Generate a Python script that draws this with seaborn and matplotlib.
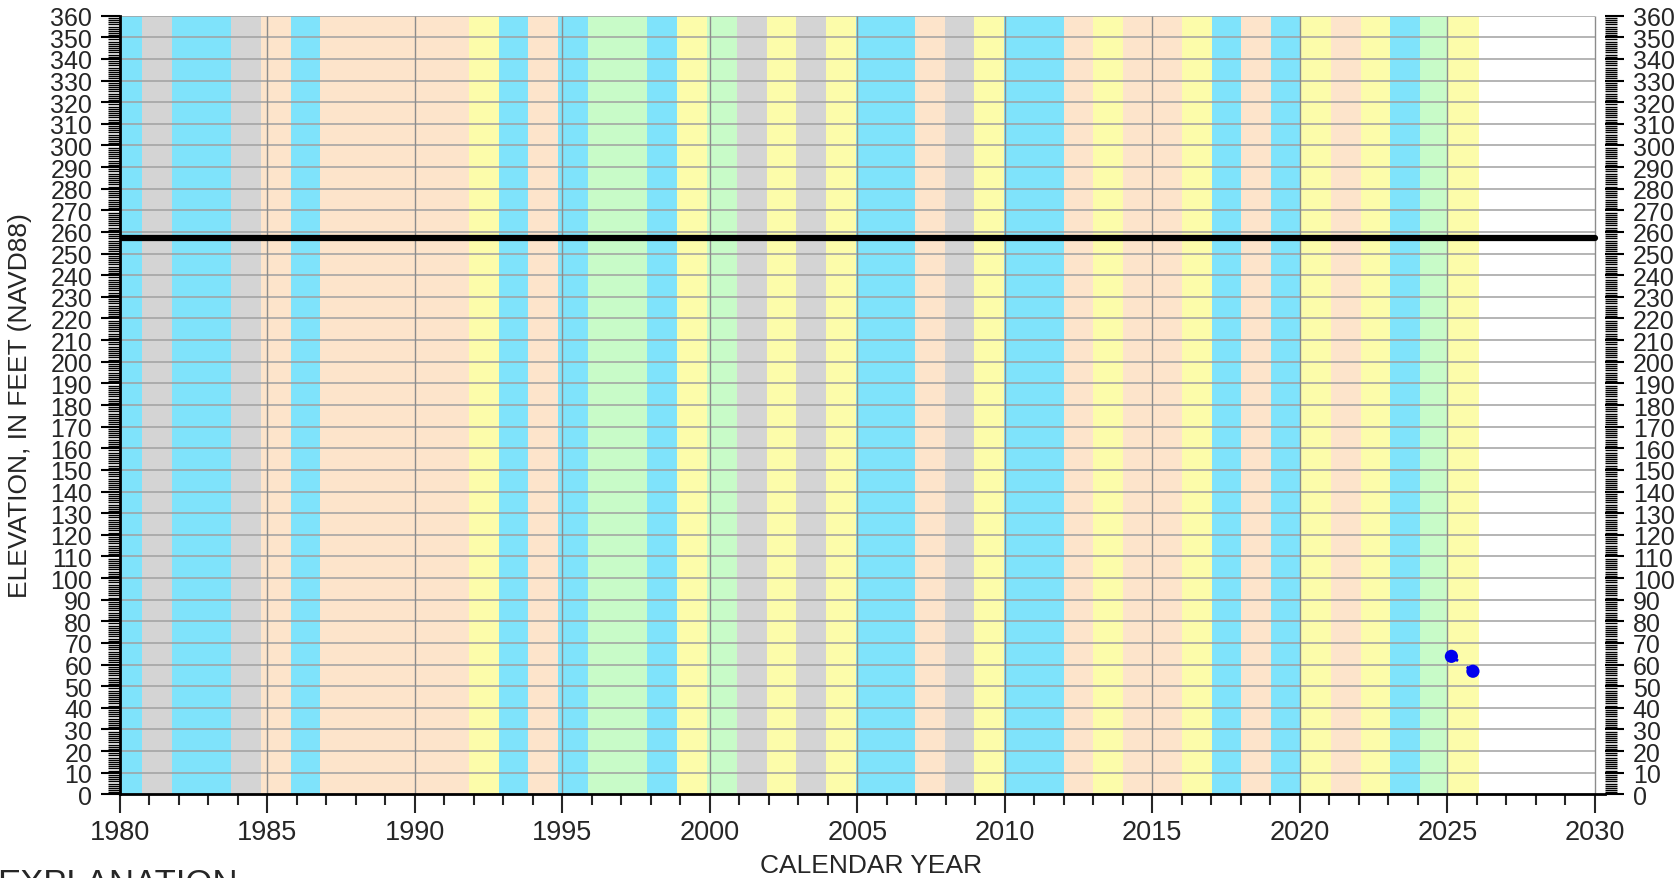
import numpy as np
import pandas as pd
import matplotlib
matplotlib.use('Agg')
import matplotlib.pyplot as plt
import seaborn as sns
from matplotlib.ticker import MultipleLocator

# Water-year band edges (decimal year) and type of each band
band_edges = [1980.00, 1980.75, 1981.76, 1983.77, 1984.78, 1985.80, 1986.79, 1991.83,
              1992.85, 1993.85, 1994.86, 1995.86, 1997.87, 1998.89, 1999.91, 2000.91,
              2001.92, 2002.93, 2003.93, 2004.97, 2006.95, 2007.97, 2008.95, 2009.97,
              2011.99, 2012.99, 2014.00, 2016.01, 2017.02, 2018.02, 2019.04, 2020.00,
              2021.05, 2022.06, 2023.07, 2024.08, 2025.03, 2026.08]
band_types = ['W', 'C', 'W', 'C', 'D', 'W', 'D', 'BN', 'W', 'D', 'W', 'AN', 'W', 'BN',
              'AN', 'C', 'BN', 'C', 'BN', 'W', 'D', 'C', 'BN', 'W', 'D', 'BN', 'D', 'BN',
              'W', 'D', 'W', 'BN', 'D', 'BN', 'W', 'AN', 'BN']
type_colors = {'W': '#7fe3fb', 'AN': '#c8fbc8', 'BN': '#fcfcaa', 'D': '#fde4cb', 'C': '#d4d4d4'}

# Reference elevation line
ref_years = [1980.0, 2030.0]
ref_elev = [257.3, 257.3]

# Measured water levels
meas_years = [2025.14, 2025.87]
meas_elev = [63.8, 56.9]

sns.set_style("white")
plt.rcParams['font.family'] = ['Liberation Sans', 'DejaVu Sans']

fig = plt.figure(figsize=(16.8, 8.79), dpi=100)
ax = fig.add_axes([0.0714, 0.0952, 0.8840, 0.8858])

for x0, x1, t in zip(band_edges[:-1], band_edges[1:], band_types):
    ax.axvspan(x0, x1, color=type_colors[t], lw=0, zorder=0)

# grid lines
ax.hlines(np.arange(10, 361, 10), 1980, 2030, color='#a0a0a0', lw=1.1, zorder=1)
ax.vlines(np.arange(1985, 2031, 5), 0, 360, color='#8c8c8c', lw=1.0, zorder=1)

ref = pd.DataFrame({'year': ref_years, 'elev': ref_elev})
sns.lineplot(data=ref, x='year', y='elev', ax=ax, color='black', lw=4.5,
             solid_capstyle='round', zorder=3)

meas = pd.DataFrame({'year': meas_years, 'elev': meas_elev})
ax.plot(meas['year'], meas['elev'], color='#0000ee', lw=2, dashes=(2.9, 3.8), zorder=4)
sns.scatterplot(data=meas, x='year', y='elev', ax=ax, color='#0000ee', s=90,
                edgecolor='none', zorder=5)

ax.set_xlim(1980, 2030.35)
ax.set_ylim(0, 360)
ax.xaxis.set_major_locator(MultipleLocator(5))
ax.xaxis.set_minor_locator(MultipleLocator(1))
ax.yaxis.set_major_locator(MultipleLocator(10))
ax.yaxis.set_minor_locator(MultipleLocator(1))

for s in ['top', 'right']:
    ax.spines[s].set_visible(False)
for s in ['left', 'bottom']:
    ax.spines[s].set_linewidth(2)
    ax.spines[s].set_color('black')

ax.tick_params(axis='y', which='both', left=True, right=True, labelleft=True,
               labelright=True, direction='out', color='black')
ax.tick_params(axis='y', which='major', length=14, width=1.5, labelsize=18, pad=6)
ax.tick_params(axis='y', which='minor', length=8.5, width=1.0)
ax.tick_params(axis='x', which='major', length=14, width=1.5, labelsize=19.5, pad=4,
               direction='out', bottom=True)
ax.tick_params(axis='x', which='minor', length=8, width=1.5, direction='out', bottom=True)

ax.set_xlabel('CALENDAR YEAR', fontsize=19)
ax.xaxis.set_label_coords(0.506, -0.076)
ax.set_ylabel('ELEVATION, IN FEET (NAVD88)', fontsize=19)
ax.yaxis.set_label_coords(-0.0593, 0.5)

fig.text(-0.002, 0.0125, 'EXPLANATION', fontsize=25, ha='left', va='top')

plt.savefig('out.png', dpi=100)
plt.close()
